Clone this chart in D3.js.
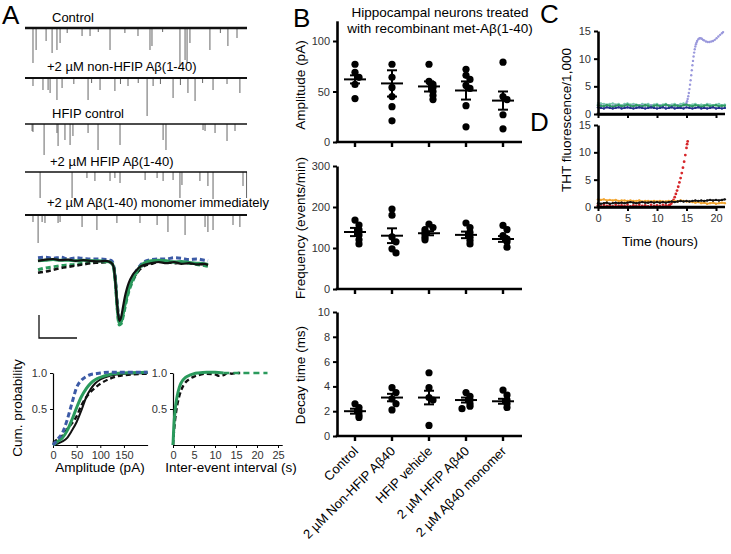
<!DOCTYPE html>
<html><head><meta charset="utf-8">
<script src="https://cdn.jsdelivr.net/npm/d3@7"></script>
<style>body{margin:0;background:#fff}svg{display:block}text{font-family:"Liberation Sans",Arial,Helvetica,sans-serif}</style>
</head><body><svg id="c" width="731" height="554"></svg>
<script>
// ---------- Panel A: raw traces (event time s, amplitude pA) ----------
const traceLabels = ["Control","+2 µM non-HFIP Aβ(1-40)","HFIP control","+2 µM HFIP Aβ(1-40)","+2 µM Aβ(1-40) monomer immediately"];
const eventsControl = [[0.36,70],[0.5,44],[0.95,26],[1.22,50],[1.44,44],[1.58,30],[2.57,16],[2.93,16],[3.83,44],[5.09,16],[5.63,44],[5.72,36],[6.98,76],[7.21,64],[7.3,70],[7.43,30],[8.33,44],[9.14,36],[9.55,20],[1.9,10],[3.3,8],[4.5,10],[6.2,8],[8.8,10]];
const eventsNonHfip = [[0.36,16],[0.81,24],[1.04,24],[1.13,30],[1.44,44],[1.67,20],[2.84,44],[3.38,24],[4.05,26],[4.64,16],[5.5,76],[5.77,16],[6.67,40],[7.34,30],[7.66,46],[8.47,24],[9.68,30],[2.2,12],[3.0,10],[4.3,12],[5.1,10],[6.1,12],[7.0,14],[8.0,10],[9.1,12]];
const eventsHfipCtrl = [[0.32,14],[0.36,16],[0.86,62],[1.44,18],[1.49,44],[1.8,32],[2.03,42],[2.16,24],[2.84,18],[3.29,52],[4.28,42],[6.22,32],[6.35,52],[8.02,12],[8.11,14],[8.56,18],[9.1,34],[9.46,14]];
const eventsHfipAb = [[0.68,52],[2.12,52],[2.79,12],[3.15,18],[3.83,18],[4.05,12],[4.28,22],[5.41,16],[5.95,12],[6.22,18],[6.67,16],[6.98,52],[7.07,26],[7.88,18],[8.24,28],[8.47,54],[9.82,28],[9.98,52]];
const eventsMonomer = [[0.36,14],[0.59,56],[0.77,14],[0.9,16],[1.49,16],[1.58,14],[2.57,24],[3.24,30],[4.14,16],[5.18,16],[5.95,20],[6.44,34],[7.21,40],[8.11,24],[8.24,34],[8.47,30],[9.37,20],[9.68,24]];
// averaged mEPSC waveforms (time ms, normalised current)
const avgTime = [0,2,4,6,8,10,12,14,16,18,19,19.5,20,20.5,21,21.5,22,22.5,23,23.5,24,25,26,27,28,30,32,34,36,38,40,42,44,45];
const avgBlackSolid = [0.02,0.04,0.05,0.03,0.04,0.02,0.03,0.02,0.01,0.02,0.0,-0.02,-0.08,-0.35,-0.75,-0.98,-0.92,-0.75,-0.58,-0.45,-0.35,-0.22,-0.14,-0.08,-0.05,-0.02,0.0,-0.02,0.0,-0.03,-0.02,-0.04,-0.03,-0.05];
const avgBlackDashed = [-0.18,-0.16,-0.13,-0.1,-0.08,-0.06,-0.04,-0.02,-0.01,0.0,0.0,-0.02,-0.06,-0.3,-0.7,-0.95,-0.95,-0.85,-0.7,-0.56,-0.45,-0.3,-0.2,-0.12,-0.07,-0.03,0.0,0.0,-0.02,-0.01,-0.02,-0.03,-0.04,-0.05];
const avgBlueDashed = [0.07,0.08,0.06,0.08,0.05,0.07,0.06,0.05,0.05,0.04,0.03,0.02,-0.05,-0.3,-0.72,-0.95,-0.97,-0.85,-0.7,-0.56,-0.44,-0.28,-0.15,-0.06,0.0,0.04,0.05,0.05,0.07,0.06,0.04,0.05,0.03,0.02];
const avgGreenSolid = [0.02,0.03,0.04,0.03,0.03,0.02,0.03,0.02,0.02,0.01,0.0,-0.02,-0.08,-0.35,-0.78,-1.02,-1.0,-0.88,-0.72,-0.58,-0.46,-0.3,-0.17,-0.08,-0.02,0.02,0.03,0.02,0.0,0.01,-0.01,-0.02,-0.03,-0.04];
const avgGreenDashed = [-0.13,-0.1,-0.08,-0.06,-0.05,-0.04,-0.02,-0.01,0.0,0.0,0.0,-0.02,-0.08,-0.35,-0.8,-1.05,-1.03,-0.92,-0.77,-0.62,-0.5,-0.33,-0.2,-0.1,-0.04,0.0,0.02,0.01,0.0,-0.01,-0.02,-0.04,-0.06,-0.07];
// cumulative distributions
const cumAmpX = [0,10,20,30,40,50,60,70,80,90,100,120,150,200];
const cumAmpBlue = [0,0.08,0.17,0.35,0.58,0.8,0.9,0.95,0.98,0.99,1.0,1.01,1.01,1.01];
const cumAmpGreen = [0,0.05,0.1,0.2,0.35,0.52,0.67,0.78,0.86,0.91,0.94,0.98,1.0,1.01];
const cumAmpBlack = [0,0.02,0.05,0.1,0.2,0.32,0.48,0.66,0.78,0.86,0.91,0.96,0.99,1.0];
const cumAmpBlackDashed = [0.03,0.08,0.13,0.22,0.3,0.4,0.55,0.66,0.74,0.8,0.85,0.92,0.97,0.99];
const cumIeiX = [0,0.25,0.5,1,1.5,2,3,4,5,6,8,10,12];
const cumIeiGreen = [0,0.3,0.48,0.68,0.8,0.87,0.94,0.97,0.99,1.0,1.01,1.01,1.0];
const cumIeiBlackX = [0,0.25,0.5,1,1.5,2,3,4,5,6,8,10,11,12,13,14,15,16];
const cumIeiBlack = [0,0.2,0.35,0.55,0.68,0.77,0.87,0.92,0.95,0.97,0.99,0.98,0.96,0.97,1.0,0.99,1.0,1.0];
const cumIeiGreenDashedX = [12,22.5];
const cumIeiGreenDashed = [1.0,1.0];

// ---------- Panel B ----------
const categories = ["Control","2 µM Non-HFIP Aβ40","HFIP vehicle","2 µM HFIP Aβ40","2 µM Aβ40 monomer"];
const ampDots = [[77,69,64,57,43],[77,64,54,45,35,21],[77,60,57,54,50,46,42],[72,66,62,56,53,36,15],[79,45,42,27,13]];
const ampMean = [62,58,55,51,41];
const ampSem = [4,13,5,9,9];
const freqDots = [[168,156,144,132,120,110],[195,180,127,115,98,88],[158,150,145,139,133,126,120],[161,150,138,126,118,110],[155,145,130,122,115,102]];
const freqMean = [139,130,136,132,122];
const freqSem = [10,18,5,8,7];
const decayDots = [[2.6,2.3,2.0,1.7,1.5],[3.9,3.5,3.0,2.6,2.1],[5.1,3.9,3.1,2.9,0.85],[3.5,3.2,2.9,2.6,2.4,2.2],[3.7,3.3,2.9,2.6,2.3]];
const decayMean = [2.0,3.1,3.1,2.9,2.8];
const decaySem = [0.2,0.3,0.55,0.2,0.2];

// ---------- Panels C, D: ThT (hours, fluorescence/1000) ----------
const thtHours = [0,0.5,1,1.5,2,2.5,3,3.5,4,4.5,5,5.5,6,6.5,7,7.5,8,8.5,9,9.5,10,10.5,11,11.5,12,12.5,13,13.5,14,14.5,15,15.5,16,16.5,17,17.5,18,18.5,19,19.5,20,20.5,21,21.5];
const cNavy = [1.2,1.1,1.0,1.2,1.1,1.0,1.1,1.2,1.0,1.1,1.2,1.1,1.0,1.1,1.2,1.1,1.0,1.1,1.2,1.1,1.0,1.1,1.2,1.0,1.1,1.2,1.0,1.1,1.1,1.0,1.2,1.1,1.0,1.1,1.2,1.0,1.1,1.0,1.1,1.2,1.0,1.1,1.0,1.1];
const cGreen = [1.6,1.5,1.4,1.6,1.5,1.3,1.5,1.6,1.4,1.5,1.7,1.5,1.4,1.6,1.5,1.4,1.6,1.5,1.3,1.5,1.6,1.4,1.5,1.7,1.5,1.4,1.6,1.5,1.4,1.6,1.7,1.5,1.4,1.6,1.5,1.3,1.5,1.6,1.4,1.5,1.6,1.4,1.5,1.5];
const cTeal = [2.0,1.9,1.8,1.7,1.8,1.9,1.7,1.8,1.6,1.8,1.9,1.7,1.8,1.7,1.6,1.8,1.7,1.8,1.6,1.7,1.8,1.6,1.7,1.8,1.6,1.7,1.8,1.6,1.8,1.9,1.7,1.6,1.7,1.8,1.6,1.7,1.6,1.8,1.7,1.6,1.7,1.8,1.6,1.7];
const cLavender = [[0,1.7],[0.5,1.6],[1,1.5],[1.5,1.6],[2,1.4],[2.5,1.5],[3,1.6],[3.5,1.5],[4,1.4],[4.5,1.6],[5,1.5],[5.5,1.5],[6,1.6],[6.5,1.4],[7,1.5],[7.5,1.6],[8,1.5],[8.5,1.4],[9,1.6],[9.5,1.5],[10,1.5],[10.5,1.6],[11,1.4],[11.5,1.5],[12,1.6],[12.5,1.5],[13,1.4],[13.5,1.6],[14,1.5],[14.5,1.6],[14.7,1.6],[14.9,1.8],[15.0,2.0],[15.1,2.3],[15.2,2.7],[15.3,3.2],[15.4,3.8],[15.5,4.5],[15.6,5.3],[15.7,6.1],[15.8,7.0],[15.9,7.9],[16.0,8.8],[16.1,9.6],[16.2,10.4],[16.3,11.1],[16.4,11.7],[16.5,12.2],[16.6,12.6],[16.7,12.9],[16.8,13.2],[17.0,13.5],[17.2,13.7],[17.4,13.7],[17.6,13.6],[17.8,13.4],[18.0,13.3],[18.3,13.1],[18.6,13.0],[18.9,13.0],[19.2,13.1],[19.5,13.2],[19.8,13.4],[20.1,13.7],[20.4,14.0],[20.7,14.3],[21.0,14.6],[21.2,14.8]];
const dOrange = [1.4,1.3,1.4,1.2,1.3,1.2,1.3,1.1,1.2,1.2,1.1,1.2,1.1,1.1,1.2,1.0,1.1,1.1,1.0,1.1,1.0,1.1,1.0,1.0,1.1,1.0,1.1,1.0,1.2,1.1,1.0,1.0,0.9,0.8,0.9,0.7,0.8,0.6,0.7,0.8,0.6,0.7,0.8,0.7];
const dBlack = [0.7,0.6,0.7,0.8,0.6,0.7,0.8,0.7,0.8,0.7,0.8,0.9,0.8,0.7,0.8,0.9,0.8,0.8,0.9,0.8,0.9,0.8,0.9,0.8,0.9,1.0,0.9,1.0,1.1,1.0,1.1,1.0,1.1,1.2,1.1,1.2,1.1,1.2,1.3,1.2,1.3,1.2,1.3,1.4];
const dRed = [[0,0.3],[0.5,0.1],[1,0.4],[1.5,0.2],[2,0.3],[2.5,0.1],[3,0.4],[3.5,0.2],[4,0.3],[4.5,0.2],[5,0.4],[5.5,0.1],[6,0.3],[6.5,0.2],[7,0.4],[7.5,0.2],[8,0.3],[8.5,0.1],[9,0.4],[9.5,0.2],[10,0.3],[10.5,0.2],[11,0.4],[11.5,0.3],[12,0.3],[12.2,0.4],[12.4,0.6],[12.6,0.9],[12.8,1.3],[13.0,1.8],[13.2,2.4],[13.4,3.0],[13.6,3.7],[13.8,4.5],[14.0,5.3],[14.2,6.2],[14.4,7.2],[14.6,8.3],[14.8,9.5],[15.0,10.8],[15.1,11.5],[15.2,12.0]];

// ================= drawing =================
const svg = d3.select("#c");
const FONT_TICK = 11, TICK_COL = "#333";
function label(x,y,s,size,opt={}){
  const t = svg.append("text").attr("x",x).attr("y",y).attr("font-size",size).attr("fill",opt.fill||"#000").text(s);
  if(opt.anchor) t.attr("text-anchor",opt.anchor);
  if(opt.rotate!==undefined) t.attr("transform",`rotate(${opt.rotate},${x},${y})`);
  return t;
}
// Panel letters
label(2,24,"A",26); label(293,27,"B",26); label(540,23,"C",26); label(530,131,"D",26);

// ---- A traces
const xT = d3.scaleLinear().domain([0,10]).range([25,247]);
const ampPx = d3.scaleLinear().domain([0,100]).range([0,50]);
const traceEvents = [eventsControl,eventsNonHfip,eventsHfipCtrl,eventsHfipAb,eventsMonomer];
const traceBase = [28,78,124,172,215];
const traceLabelPos = [[52,22],[47,71],[52,118],[50,166],[47,207]];
const traceWidth = [2.4,2.2,1.4,1.4,1.8];
traceEvents.forEach((ev,i)=>{
  const g = svg.append("g");
  g.selectAll("line.ev").data(ev).join("line")
    .attr("x1",d=>xT(d[0])).attr("x2",d=>xT(d[0]))
    .attr("y1",traceBase[i]).attr("y2",d=>traceBase[i]+ampPx(d[1]))
    .attr("stroke","#555").attr("stroke-width",0.9);
  g.append("line").attr("x1",xT(0)).attr("x2",xT(10)).attr("y1",traceBase[i]).attr("y2",traceBase[i])
    .attr("stroke","#111").attr("stroke-width",traceWidth[i]);
  label(traceLabelPos[i][0],traceLabelPos[i][1],traceLabels[i],13);
});

// ---- A averaged waveform
const xAvg = d3.scaleLinear().domain([0,45]).range([38,208]);
const yAvg = d3.scaleLinear().domain([-1,0]).range([322,262]);
const lineAvg = d3.line().x((d,i)=>xAvg(avgTime[i])).y(d=>yAvg(d)).curve(d3.curveMonotoneX);
const avgSeries = [
  [avgGreenDashed,"#2a9a5c",3,"5,3"],
  [avgBlueDashed,"#3c5aa6",3,"5,3"],
  [avgBlackDashed,"#111",2.6,"5,3"],
  [avgGreenSolid,"#2a9a5c",3,null],
  [avgBlackSolid,"#111",2.2,null]
];
avgSeries.forEach(s=>{
  const p = svg.append("path").attr("d",lineAvg(s[0])).attr("fill","none").attr("stroke",s[1]).attr("stroke-width",s[2]);
  if(s[3]) p.attr("stroke-dasharray",s[3]);
});
// scale bar
svg.append("path").attr("d","M39,315 V338 H77").attr("fill","none").attr("stroke","#111").attr("stroke-width",1.3);

// ---- A cumulative plots
function cumPlot(x0, x1, dom, ticks, curves){
  const xs = d3.scaleLinear().domain(dom).range([x0,x1]);
  const ys = d3.scaleLinear().domain([0,1]).range([445,373]);
  const g = svg.append("g");
  const ax = g.append("g").attr("transform","translate(0,445)").call(d3.axisBottom(xs).tickValues(ticks).tickSize(3).tickSizeOuter(0));
  const ay = g.append("g").attr("transform",`translate(${x0},0)`).call(d3.axisLeft(ys).tickValues([0.5,1.0]).tickFormat(d3.format(".1f")).tickSize(3).tickSizeOuter(0));
  [ax,ay].forEach(a=>{a.select(".domain").attr("stroke-width",1.2);a.selectAll("line").attr("stroke-width",1);
    a.selectAll("text").attr("font-size",FONT_TICK).attr("fill",TICK_COL).attr("font-family","Liberation Sans, Arial, sans-serif");});
  curves.forEach(c=>{
    const ln = d3.line().x((d,i)=>xs(c[0][i])).y(d=>ys(d)).curve(d3.curveMonotoneX);
    const p = g.append("path").attr("d",ln(c[1])).attr("fill","none").attr("stroke",c[2]).attr("stroke-width",c[3]);
    if(c[4]) p.attr("stroke-dasharray",c[4]);
  });
  return xs;
}
cumPlot(53,147.6,[0,200],[0,50,100,150],[
  [cumAmpX,cumAmpBlackDashed,"#111",2.4,"5,3"],
  [cumAmpX,cumAmpBlack,"#111",2,null],
  [cumAmpX,cumAmpGreen,"#2a9a5c",3,null],
  [cumAmpX,cumAmpBlue,"#3c5aa6",3,"5,3"]
]);
cumPlot(173,282.2,[0,26],[0,5,10,15,20,25],[
  [cumIeiBlackX,cumIeiBlack,"#111",2.4,"5,3"],
  [cumIeiGreenDashedX,cumIeiGreenDashed,"#2a9a5c",2.6,"6,4"],
  [cumIeiX,cumIeiGreen,"#2a9a5c",3,null]
]);
label(22,408,"Cum. probability",13.5,{anchor:"middle",rotate:-90});
label(100,472,"Amplitude (pA)",13.5,{anchor:"middle"});
label(231,472,"Inter-event interval (s)",13.5,{anchor:"middle"});

// ---- B
label(440,17,"Hippocampal neurons treated",13.5,{anchor:"middle"});
label(440,33,"with recombinant met-Aβ(1-40)",13.5,{anchor:"middle"});
const xB = d3.scalePoint().domain(categories).range([355,503]);
function dotPlot(ys, ticks, dots, means, sems, ylabel, labelY){
  const g = svg.append("g");
  const ay = g.append("g").attr("transform","translate(337,0)").call(d3.axisLeft(ys).tickValues(ticks).tickSize(4).tickSizeOuter(0));
  ay.select(".domain").attr("stroke-width",2.6);
  ay.selectAll("line").attr("stroke-width",2);
  ay.selectAll("text").attr("font-size",FONT_TICK).attr("fill",TICK_COL).attr("font-family","Liberation Sans, Arial, sans-serif");
  const y0 = ys(0);
  g.append("line").attr("x1",335.7).attr("x2",522).attr("y1",y0).attr("y2",y0).attr("stroke","#000").attr("stroke-width",2.6);
  g.selectAll("line.xt").data(categories).join("line").attr("x1",d=>xB(d)).attr("x2",d=>xB(d)).attr("y1",y0).attr("y2",y0+5).attr("stroke","#000").attr("stroke-width",2.4);
  categories.forEach((c,ci)=>{
    const cx = xB(c);
    const placed = [];
    dots[ci].forEach(v=>{
      const py = ys(v);
      const near = placed.filter(p=>Math.abs(p.y-py)<6 && Math.abs(p.x-cx)<7).length;
      const px = near===0?cx:(near%2? cx+4 : cx-4);
      placed.push({x:px,y:py});
      g.append("circle").attr("cx",px).attr("cy",py).attr("r",3.6).attr("fill","#000");
    });
    const m = ys(means[ci]), hi = ys(means[ci]+sems[ci]), lo = ys(means[ci]-sems[ci]);
    g.append("line").attr("x1",cx-11).attr("x2",cx+11).attr("y1",m).attr("y2",m).attr("stroke","#000").attr("stroke-width",2);
    g.append("line").attr("x1",cx).attr("x2",cx).attr("y1",hi).attr("y2",lo).attr("stroke","#000").attr("stroke-width",2);
    g.append("line").attr("x1",cx-5).attr("x2",cx+5).attr("y1",hi).attr("y2",hi).attr("stroke","#000").attr("stroke-width",2);
    g.append("line").attr("x1",cx-5).attr("x2",cx+5).attr("y1",lo).attr("y2",lo).attr("stroke","#000").attr("stroke-width",2);
  });
  label(305,labelY,ylabel,13.5,{anchor:"middle",rotate:-90});
}
dotPlot(d3.scaleLinear().domain([0,120]).range([142,20.8]),[0,50,100],ampDots,ampMean,ampSem,"Amplitude (pA)",85);
dotPlot(d3.scaleLinear().domain([0,300]).range([289,166]),[0,100,200,300],freqDots,freqMean,freqSem,"Frequency (events/min)",228);
dotPlot(d3.scaleLinear().domain([0,10]).range([436,312]),[0,2,4,6,8,10],decayDots,decayMean,decaySem,"Decay time (ms)",375);
categories.forEach(c=>{
  label(xB(c)+4,452,c,13,{anchor:"end",rotate:-45});
});

// ---- C & D
const xH = d3.scaleLinear().domain([0,20]).range([598,716]);
function thtAxes(ys, y0, showLabels){
  const g = svg.append("g");
  const ax = g.append("g").attr("transform",`translate(0,${y0})`).call(d3.axisBottom(xH).tickValues([0,5,10,15,20]).tickSize(4).tickSizeOuter(0).tickFormat(showLabels?d3.format("d"):""));
  g.append("line").attr("x1",596.7).attr("x2",725).attr("y1",y0).attr("y2",y0).attr("stroke","#000").attr("stroke-width",2.6);
  const ay = g.append("g").attr("transform","translate(598,0)").call(d3.axisLeft(ys).tickValues([0,5,10,15]).tickSize(4).tickSizeOuter(0));
  [ax,ay].forEach(a=>{a.select(".domain").attr("stroke-width",2.6);a.selectAll("line").attr("stroke-width",2);
    a.selectAll("text").attr("font-size",FONT_TICK).attr("fill",TICK_COL).attr("font-family","Liberation Sans, Arial, sans-serif");});
  return g;
}
function thtLine(g, ys, vals, color, w){
  const ln = d3.line().x((d,i)=>xH(thtHours[i])).y(d=>ys(d));
  g.append("path").attr("d",ln(vals)).attr("fill","none").attr("stroke",color).attr("stroke-width",w);
  g.selectAll(null).data(vals).join("circle").attr("cx",(d,i)=>xH(thtHours[i])).attr("cy",d=>ys(d)).attr("r",1.2).attr("fill",color);
}
function thtDots(g, ys, pairs, color, r){
  g.selectAll(null).data(pairs).join("circle").attr("cx",d=>xH(d[0])).attr("cy",d=>ys(d[1])).attr("r",r).attr("fill",color);
}
const yC = d3.scaleLinear().domain([0,15]).range([114,31]);
const gC = svg.append("g");
thtLine(gC,yC,cTeal,"#7cc8b0",1.6);
thtDots(gC,yC,cLavender,"#9a98dc",1.2);
thtLine(gC,yC,cGreen,"#2f9a60",1.6);
thtLine(gC,yC,cNavy,"#262f8c",1.6);
thtAxes(yC,114,false);
const yD = d3.scaleLinear().domain([0,15]).range([207,125]);
const gD = svg.append("g");
thtDots(gD,yD,dRed,"#d6262a",1.4);
thtLine(gD,yD,dOrange,"#f2a530",1.6);
thtLine(gD,yD,dBlack,"#111",1.6);
thtAxes(yD,207,true);
label(571,120,"THT fluorescence/1,000",13.5,{anchor:"middle",rotate:-90});
label(660,246,"Time (hours)",13.5,{anchor:"middle"});
</script></body></html>
